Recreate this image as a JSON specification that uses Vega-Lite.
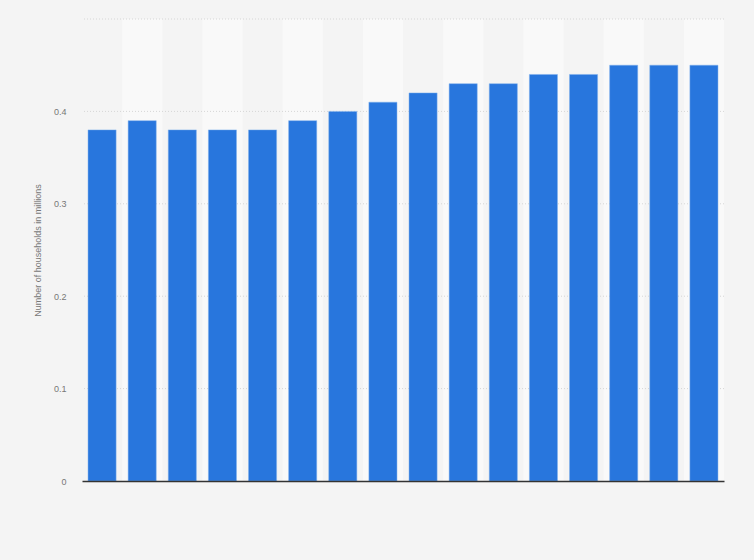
{
  "$schema": "https://vega.github.io/schema/vega-lite/v6.json",
  "width": 642,
  "height": 462,
  "autosize": {"type": "none"},
  "padding": {"left": 82, "top": 19, "right": 30, "bottom": 79},
  "background": "#f4f4f4",
  "datasets": {
    "households": [
      {"year": "2005", "households": 0.38},
      {"year": "2006", "households": 0.39},
      {"year": "2007", "households": 0.38},
      {"year": "2008", "households": 0.38},
      {"year": "2009", "households": 0.38},
      {"year": "2010", "households": 0.39},
      {"year": "2011", "households": 0.40},
      {"year": "2012", "households": 0.41},
      {"year": "2013", "households": 0.42},
      {"year": "2014", "households": 0.43},
      {"year": "2015", "households": 0.43},
      {"year": "2016", "households": 0.44},
      {"year": "2017", "households": 0.44},
      {"year": "2018", "households": 0.45},
      {"year": "2019", "households": 0.45},
      {"year": "2020", "households": 0.45}
    ],
    "grid": [
      {"v": 0.1}, {"v": 0.2}, {"v": 0.3}, {"v": 0.4}, {"v": 0.5}
    ]
  },
  "data": {"name": "households"},
  "layer": [
    {
      "transform": [
        {"window": [{"op": "row_number", "as": "idx"}]},
        {"filter": "datum.idx % 2 == 0"}
      ],
      "mark": {"type": "rect", "color": "#f9f9f9", "width": {"band": 1.43}},
      "encoding": {
        "x": {
          "field": "year",
          "type": "ordinal",
          "title": null,
          "scale": {"paddingInner": 0.3, "paddingOuter": 0.15},
          "axis": {
            "labels": false,
            "ticks": false,
            "domainColor": "#333333",
            "domainWidth": 1.5,
            "grid": false
          }
        },
        "y": {"datum": 0.5, "type": "quantitative"},
        "y2": {"datum": 0}
      }
    },
    {
      "data": {"name": "grid"},
      "mark": {"type": "rule", "color": "#d6d6d6", "strokeDash": [1, 2], "strokeWidth": 1},
      "encoding": {
        "y": {"field": "v", "type": "quantitative"}
      }
    },
    {
      "mark": {"type": "bar", "color": "#2876dd", "stroke": "#7fb0ec", "strokeWidth": 0.5},
      "encoding": {
        "x": {"field": "year", "type": "ordinal"},
        "y": {
          "field": "households",
          "type": "quantitative",
          "title": "Number of households in millions",
          "scale": {"domain": [0, 0.5]},
          "axis": {
            "values": [0, 0.1, 0.2, 0.3, 0.4, 0.5],
            "labelExpr": "datum.value == 0.5 ? '' : datum.label",
            "format": "~g",
            "grid": false,
            "domain": false,
            "ticks": false,
            "labelPadding": 16,
            "labelColor": "#777777",
            "labelFontSize": 9,
            "labelFont": "Arial",
            "titleColor": "#777777",
            "titleFontSize": 9,
            "titleFont": "Arial",
            "titleFontWeight": "normal",
            "titlePadding": 11
          }
        }
      }
    }
  ],
  "config": {
    "view": {"stroke": null},
    "font": "Arial"
  }
}
